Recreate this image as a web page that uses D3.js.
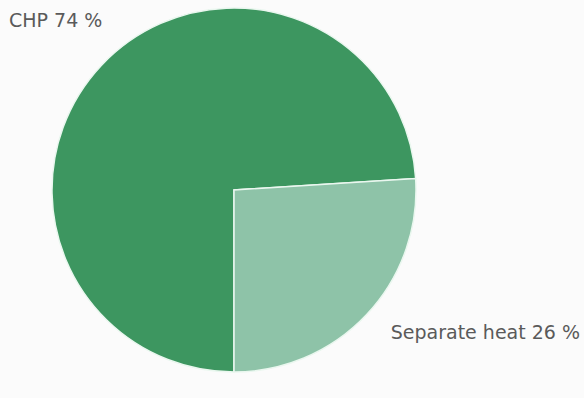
<!DOCTYPE html>
<html>
<head>
<meta charset="utf-8">
<script src="https://cdn.jsdelivr.net/npm/d3@7"></script>
<style>
  html, body { margin: 0; padding: 0; background: #fbfbfb; }
  svg { display: block; }
  text { font-family: "DejaVu Sans", Verdana, sans-serif; fill: #5a5a5a; }
</style>
</head>
<body>
<svg id="chart" width="584" height="398"></svg>
<script>
// Heat production shares
const categories = ["CHP", "Separate heat"];
const values = [74, 26];
const labels = ["CHP 74 %", "Separate heat 26 %"];
const colors = ["#3d9660", "#8ec3a8"];

const svg = d3.select("#chart");
const cx = 234, cy = 190, r = 182;

const pie = d3.pie()
  .sort(null)
  .value(d => d)
  .startAngle(Math.PI)
  .endAngle(3 * Math.PI);

const arc = d3.arc().innerRadius(0).outerRadius(r);

const g = svg.append("g").attr("transform", `translate(${cx},${cy})`);

g.selectAll("path")
  .data(pie(values))
  .join("path")
  .attr("d", arc)
  .attr("fill", (d, i) => colors[i])
  .attr("stroke", "#eaf7ef")
  .attr("stroke-width", 1.5)
  .attr("stroke-linejoin", "miter");

// Slice labels
svg.append("text")
  .attr("x", 9)
  .attr("y", 27)
  .attr("font-size", 19)
  .text(labels[0]);

svg.append("text")
  .attr("x", 580)
  .attr("y", 339)
  .attr("text-anchor", "end")
  .attr("font-size", 19)
  .text(labels[1]);
</script>
</body>
</html>
